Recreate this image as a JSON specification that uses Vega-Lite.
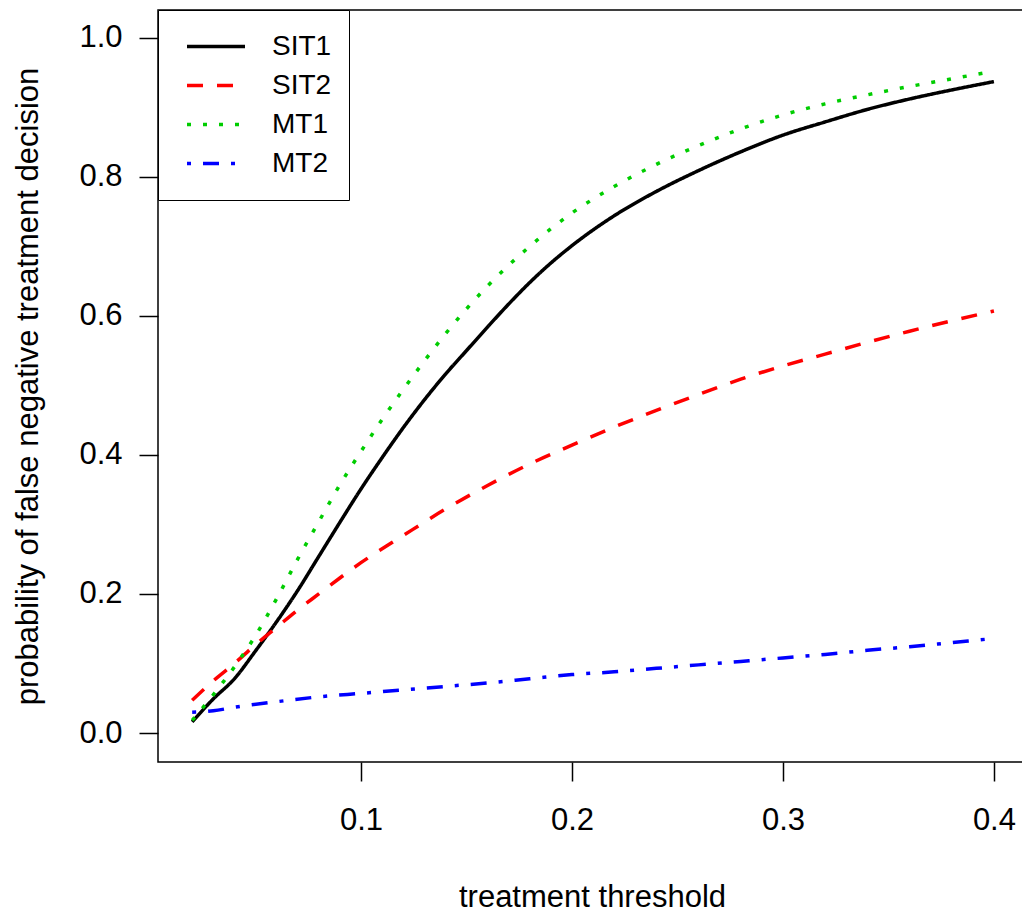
{
 "$schema": "https://vega.github.io/schema/vega-lite/v6.json",
 "autosize": {"type": "none"},
 "width": 868,
 "height": 752,
 "padding": {"left": 158, "top": 10, "right": 0, "bottom": 158},
 "background": "white",
 "config": {"view": {"stroke": "black", "strokeWidth": 1.5}, "font": "Liberation Sans"},
 "datasets": {
  "curves": [
   {"t":0.02,"s":"SIT1","p":0.016},{"t":0.03,"s":"SIT1","p":0.049},{"t":0.04,"s":"SIT1","p":0.078},{"t":0.05,"s":"SIT1","p":0.118},{"t":0.06,"s":"SIT1","p":0.16},{"t":0.07,"s":"SIT1","p":0.205},{"t":0.08,"s":"SIT1","p":0.254},{"t":0.09,"s":"SIT1","p":0.303},{"t":0.1,"s":"SIT1","p":0.351},{"t":0.11,"s":"SIT1","p":0.396},{"t":0.12,"s":"SIT1","p":0.439},{"t":0.13,"s":"SIT1","p":0.479},{"t":0.14,"s":"SIT1","p":0.516},{"t":0.15,"s":"SIT1","p":0.55},{"t":0.16,"s":"SIT1","p":0.584},{"t":0.17,"s":"SIT1","p":0.617},{"t":0.18,"s":"SIT1","p":0.648},{"t":0.19,"s":"SIT1","p":0.676},{"t":0.2,"s":"SIT1","p":0.701},{"t":0.22,"s":"SIT1","p":0.744},{"t":0.24,"s":"SIT1","p":0.779},{"t":0.26,"s":"SIT1","p":0.809},{"t":0.28,"s":"SIT1","p":0.836},{"t":0.3,"s":"SIT1","p":0.86},{"t":0.32,"s":"SIT1","p":0.879},{"t":0.34,"s":"SIT1","p":0.897},{"t":0.36,"s":"SIT1","p":0.912},{"t":0.38,"s":"SIT1","p":0.925},{"t":0.4,"s":"SIT1","p":0.937},
   {"t":0.02,"s":"SIT2","p":0.047},{"t":0.03,"s":"SIT2","p":0.075},{"t":0.04,"s":"SIT2","p":0.1},{"t":0.05,"s":"SIT2","p":0.127},{"t":0.06,"s":"SIT2","p":0.152},{"t":0.07,"s":"SIT2","p":0.177},{"t":0.08,"s":"SIT2","p":0.2},{"t":0.09,"s":"SIT2","p":0.223},{"t":0.1,"s":"SIT2","p":0.245},{"t":0.12,"s":"SIT2","p":0.284},{"t":0.14,"s":"SIT2","p":0.322},{"t":0.16,"s":"SIT2","p":0.356},{"t":0.18,"s":"SIT2","p":0.387},{"t":0.2,"s":"SIT2","p":0.414},{"t":0.22,"s":"SIT2","p":0.44},{"t":0.24,"s":"SIT2","p":0.464},{"t":0.26,"s":"SIT2","p":0.487},{"t":0.28,"s":"SIT2","p":0.509},{"t":0.3,"s":"SIT2","p":0.528},{"t":0.32,"s":"SIT2","p":0.545},{"t":0.34,"s":"SIT2","p":0.562},{"t":0.36,"s":"SIT2","p":0.578},{"t":0.38,"s":"SIT2","p":0.593},{"t":0.4,"s":"SIT2","p":0.607},
   {"t":0.02,"s":"MT1","p":0.018},{"t":0.03,"s":"MT1","p":0.055},{"t":0.04,"s":"MT1","p":0.095},{"t":0.05,"s":"MT1","p":0.14},{"t":0.06,"s":"MT1","p":0.193},{"t":0.07,"s":"MT1","p":0.25},{"t":0.08,"s":"MT1","p":0.304},{"t":0.09,"s":"MT1","p":0.357},{"t":0.1,"s":"MT1","p":0.405},{"t":0.11,"s":"MT1","p":0.451},{"t":0.12,"s":"MT1","p":0.494},{"t":0.13,"s":"MT1","p":0.535},{"t":0.14,"s":"MT1","p":0.574},{"t":0.15,"s":"MT1","p":0.61},{"t":0.16,"s":"MT1","p":0.643},{"t":0.18,"s":"MT1","p":0.7},{"t":0.2,"s":"MT1","p":0.748},{"t":0.22,"s":"MT1","p":0.786},{"t":0.24,"s":"MT1","p":0.818},{"t":0.26,"s":"MT1","p":0.845},{"t":0.28,"s":"MT1","p":0.869},{"t":0.3,"s":"MT1","p":0.889},{"t":0.32,"s":"MT1","p":0.905},{"t":0.34,"s":"MT1","p":0.918},{"t":0.36,"s":"MT1","p":0.93},{"t":0.38,"s":"MT1","p":0.941},{"t":0.4,"s":"MT1","p":0.952},
   {"t":0.02,"s":"MT2","p":0.03},{"t":0.03,"s":"MT2","p":0.032},{"t":0.04,"s":"MT2","p":0.037},{"t":0.06,"s":"MT2","p":0.045},{"t":0.08,"s":"MT2","p":0.052},{"t":0.1,"s":"MT2","p":0.057},{"t":0.12,"s":"MT2","p":0.062},{"t":0.14,"s":"MT2","p":0.067},{"t":0.16,"s":"MT2","p":0.072},{"t":0.18,"s":"MT2","p":0.078},{"t":0.2,"s":"MT2","p":0.084},{"t":0.22,"s":"MT2","p":0.088},{"t":0.24,"s":"MT2","p":0.093},{"t":0.26,"s":"MT2","p":0.098},{"t":0.28,"s":"MT2","p":0.103},{"t":0.3,"s":"MT2","p":0.108},{"t":0.32,"s":"MT2","p":0.113},{"t":0.34,"s":"MT2","p":0.119},{"t":0.36,"s":"MT2","p":0.124},{"t":0.38,"s":"MT2","p":0.13},{"t":0.4,"s":"MT2","p":0.136}
  ]
 },
 "data": {"name": "curves"},
 "mark": {"type": "line", "strokeWidth": 3.5, "interpolate": "monotone", "clip": true, "strokeCap": "butt"},
 "encoding": {
  "x": {
   "field": "t", "type": "quantitative",
   "scale": {"domain": [0.0038, 0.4152], "nice": false, "zero": false},
   "axis": {"title": "treatment threshold", "values": [0.1, 0.2, 0.3, 0.4], "format": ".1f", "grid": false, "domain": false,
    "tickColor": "black", "tickSize": 19, "tickWidth": 1.5, "labelFontSize": 31, "labelColor": "black", "labelPadding": 24,
    "titleFontSize": 31, "titleFontWeight": "normal", "titleColor": "black", "titleBaseline": "alphabetic", "titleY": 144, "titleX": 434}
  },
  "y": {
   "field": "p", "type": "quantitative",
   "scale": {"domain": [-0.0417, 1.04], "nice": false, "zero": false},
   "axis": {"title": "probability of false negative treatment decision", "values": [0, 0.2, 0.4, 0.6, 0.8, 1.0], "format": ".1f", "grid": false, "domain": false,
    "tickColor": "black", "tickSize": 19, "tickWidth": 1.5, "labelFontSize": 31, "labelColor": "black", "labelPadding": 17,
    "titleFontSize": 31, "titleFontWeight": "normal", "titleColor": "black", "titleBaseline": "alphabetic", "titleX": -121, "titleY": 376, "titleAngle": -90}
  },
  "color": {
   "field": "s", "type": "nominal",
   "scale": {"domain": ["SIT1", "SIT2", "MT1", "MT2"], "range": ["#000000", "#FF0000", "#00CD00", "#0000FF"]},
   "legend": {"title": null, "orient": "none", "legendX": 0, "legendY": 0, "symbolType": "stroke", "symbolSize": 3364, "symbolStrokeWidth": 3.5,
    "labelFontSize": 28, "labelColor": "black", "labelOffset": 25, "padding": 17, "symbolOffset": 10, "rowPadding": 0, "clipHeight": 39,
    "strokeColor": "black", "fillColor": "white"}
  },
  "strokeDash": {
   "field": "s", "type": "nominal",
   "scale": {"domain": ["SIT1", "SIT2", "MT1", "MT2"], "range": [[1, 0], [16, 14], [4, 12], [4, 12, 16, 12]]},
   "legend": {"title": null, "orient": "none", "legendX": 0, "legendY": 0, "symbolType": "stroke", "symbolSize": 3364, "symbolStrokeWidth": 3.5,
    "labelFontSize": 28, "labelColor": "black", "labelOffset": 25, "padding": 17, "symbolOffset": 10, "rowPadding": 0, "clipHeight": 39,
    "strokeColor": "black", "fillColor": "white"}
  }
 }
}
